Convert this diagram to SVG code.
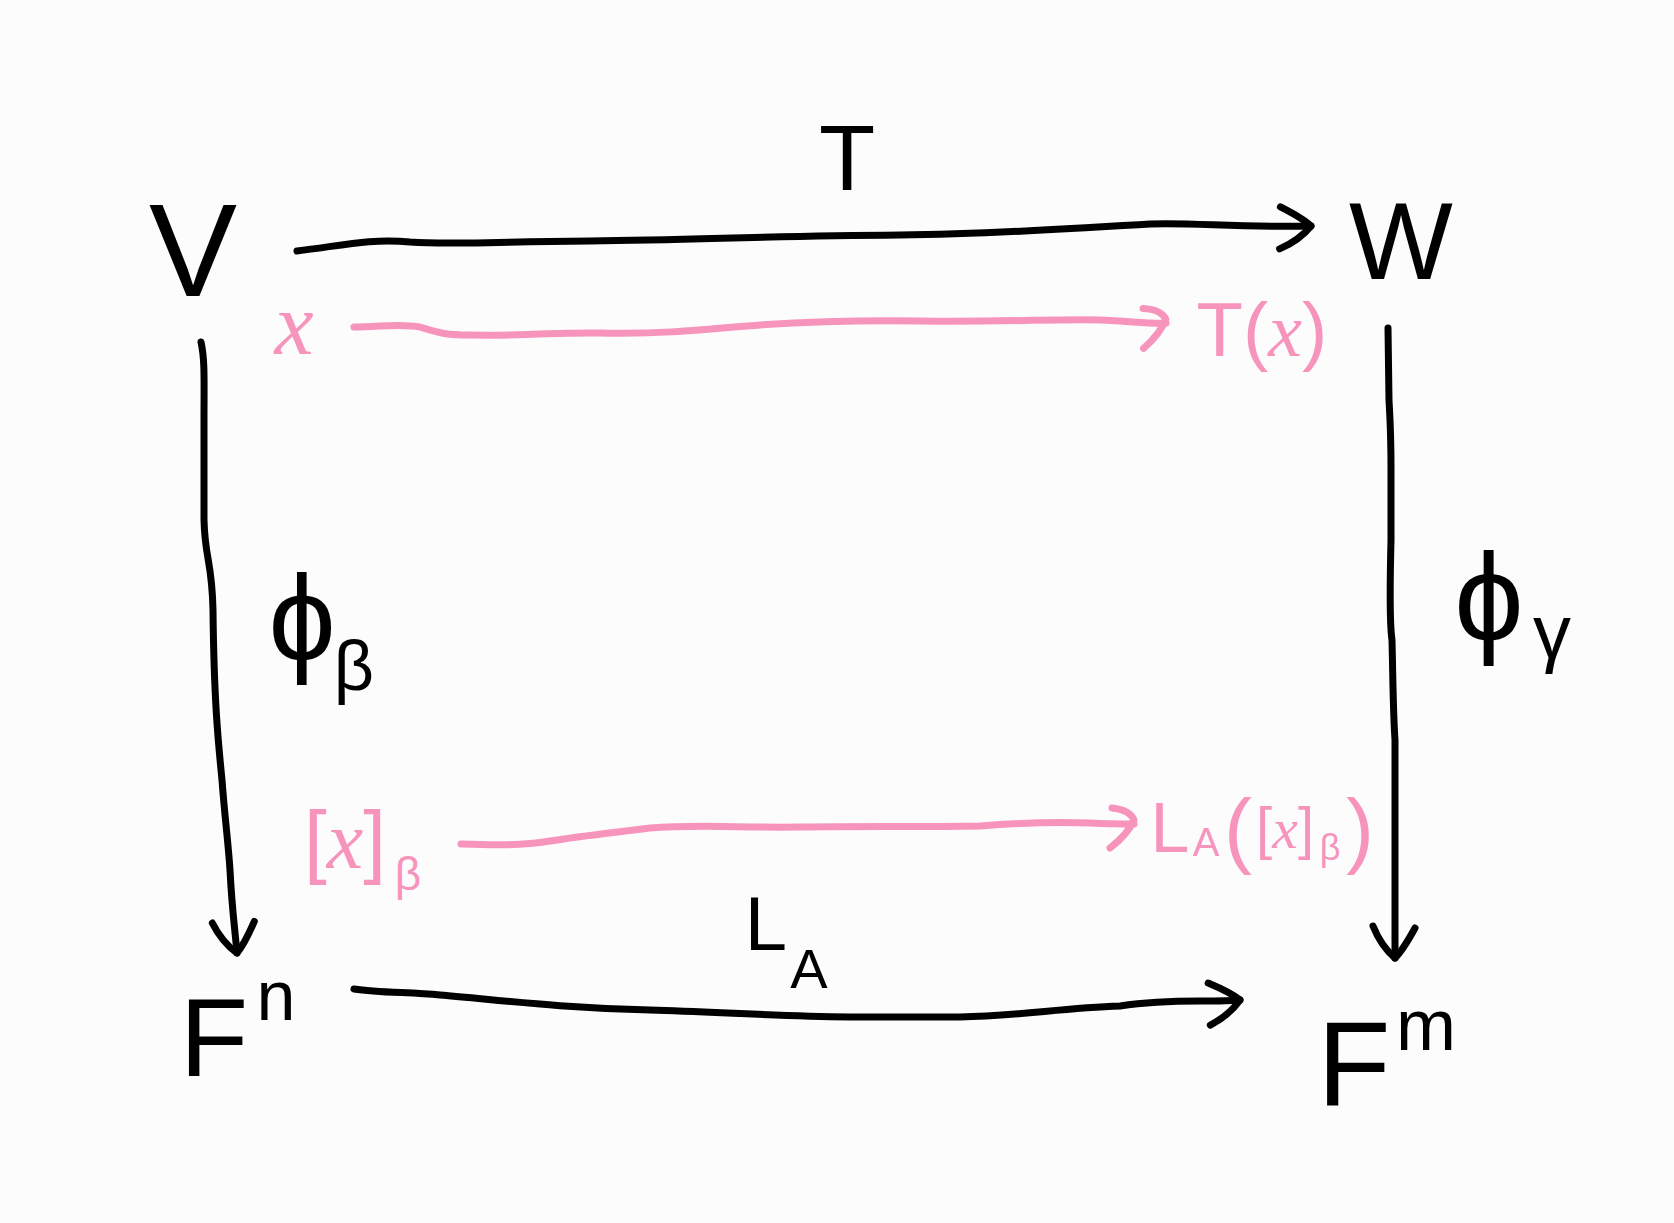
<svg xmlns="http://www.w3.org/2000/svg" width="1674" height="1223" viewBox="0 0 1674 1223">
<defs>
<style>
.bg{fill:#fdfcfd}
.n{font-family:"Liberation Sans","DejaVu Sans",sans-serif;fill:#000}
.p{font-family:"Liberation Sans","DejaVu Sans",sans-serif;fill:#f794bc}
.m{font-family:"Liberation Serif","DejaVu Serif",serif;font-style:italic}
.e{fill:none;stroke:#000;stroke-width:7;stroke-linecap:round;stroke-linejoin:round}
.ep{fill:none;stroke:#f794bc;stroke-width:7;stroke-linecap:round;stroke-linejoin:round}
</style>
<marker id="ah" markerUnits="userSpaceOnUse" orient="auto" markerWidth="60" markerHeight="60" refX="0" refY="0" viewBox="-40 -30 50 60" overflow="visible">
<path d="M-30,-20 Q-8,-8 0,0 Q-12,14 -32,22" fill="none" stroke="#000" stroke-width="7" stroke-linecap="round" stroke-linejoin="round"/>
</marker>
<marker id="ahp" markerUnits="userSpaceOnUse" orient="auto" markerWidth="60" markerHeight="60" refX="0" refY="0" viewBox="-40 -30 50 60" overflow="visible">
<path d="M-22,-16 Q-4,-14 0,-4 Q-6,10 -24,24" fill="none" stroke="#f794bc" stroke-width="7" stroke-linecap="round" stroke-linejoin="round"/>
</marker>
</defs>
<rect class="bg" x="0" y="0" width="1674" height="1223"/>

<g id="connectors">
<path id="e-T" class="e" d="M297,251 C340,246 370,238 410,242 C450,245 470,242 590,241 C700,240 760,236 900,235 C1000,234 1080,228 1150,224 C1190,222 1240,228 1311,226" marker-end="url(#ah)"/>
<path id="e-phiB" class="e" d="M201,342 C205,360 204,380 204,420 L204,520 C205,560 212,560 213,610 C214,700 218,740 222,780 C225,820 228,840 230,870 C232,910 235,930 237,953" marker-end="url(#ah)"/>
<path id="e-phiG" class="e" d="M1388,328 L1389,400 C1390,420 1391,430 1391,470 L1391,540 C1390,580 1389,620 1392,640 C1393,680 1393,710 1395,740 L1395,958" marker-end="url(#ah)"/>
<path id="e-LA" class="e" d="M354,989 C380,993 410,992 440,995 C500,1000 560,1008 650,1010 C720,1012 770,1016 850,1017 L960,1017 C1020,1016 1060,1008 1120,1006 C1140,1003 1160,1001 1200,1001 C1220,1001 1230,1001 1240,1000" marker-end="url(#ah)"/>
<path id="e-x" class="ep" d="M354,327 C380,327 400,323 420,327 C440,333 445,335 470,335 C530,336 560,332 600,333 C660,334 690,331 760,325 C820,321 860,320 920,321 C1000,322 1060,319 1100,320 C1130,321 1150,324 1166,323" marker-end="url(#ahp)"/>
<path id="e-xB" class="ep" d="M461,844 C490,845 520,846 550,841 C580,836 610,833 650,828 C700,824 740,828 800,827 C860,826 920,827 980,826 C1030,822 1060,822 1090,823 C1110,824 1120,824 1134,824" marker-end="url(#ahp)"/>
</g>

<g id="node-V"><text class="n" x="193" y="296" font-size="132" text-anchor="middle">V</text></g>
<g id="node-W"><text class="n" x="1401" y="279" font-size="110" text-anchor="middle">W</text></g>
<g id="node-Fn"><text class="n" x="214" y="1076" font-size="112" text-anchor="middle">F</text><text class="n" x="276" y="1020" font-size="70" text-anchor="middle">n</text></g>
<g id="node-Fm"><text class="n" x="1354" y="1106" font-size="120" text-anchor="middle">F</text><text class="n" x="1426" y="1050" font-size="72" text-anchor="middle">m</text></g>

<g id="label-T"><text class="n" x="847" y="190" font-size="92" text-anchor="middle">T</text></g>
<g id="label-LA"><text class="n" x="766" y="950" font-size="76" text-anchor="middle">L</text><text class="n" x="809" y="988" font-size="56" text-anchor="middle">A</text></g>
<g id="label-phiB"><text class="n" x="302" y="660" font-size="120" text-anchor="middle">ϕ</text><text class="n" x="354" y="690" font-size="70" text-anchor="middle">β</text></g>
<g id="label-phiG"><text class="n" x="1489" y="640" font-size="124" text-anchor="middle">ϕ</text><text class="n" x="1552" y="658" font-size="76" text-anchor="middle">γ</text></g>

<g id="node-x"><text class="p m" x="294" y="354" font-size="88" text-anchor="middle">x</text></g>
<g id="node-Tx"><text class="p" x="1262" y="356" font-size="76" text-anchor="middle">T(<tspan class="m">x</tspan>)</text></g>
<g id="node-xB"><text class="p" x="345" y="868" font-size="82" text-anchor="middle">[<tspan class="m">x</tspan>]</text><text class="p" x="408" y="890" font-size="46" text-anchor="middle">β</text></g>
<g id="node-LAxB"><text class="p" x="1170" y="852" font-size="70" text-anchor="middle">L</text><text class="p" x="1206" y="856" font-size="40" text-anchor="middle">A</text><text class="p" x="1238" y="858" font-size="84" text-anchor="middle">(</text><text class="p" x="1285" y="848" font-size="58" text-anchor="middle">[<tspan class="m">x</tspan>]</text><text class="p" x="1330" y="860" font-size="36" text-anchor="middle">β</text><text class="p" x="1360" y="858" font-size="84" text-anchor="middle">)</text></g>
</svg>
